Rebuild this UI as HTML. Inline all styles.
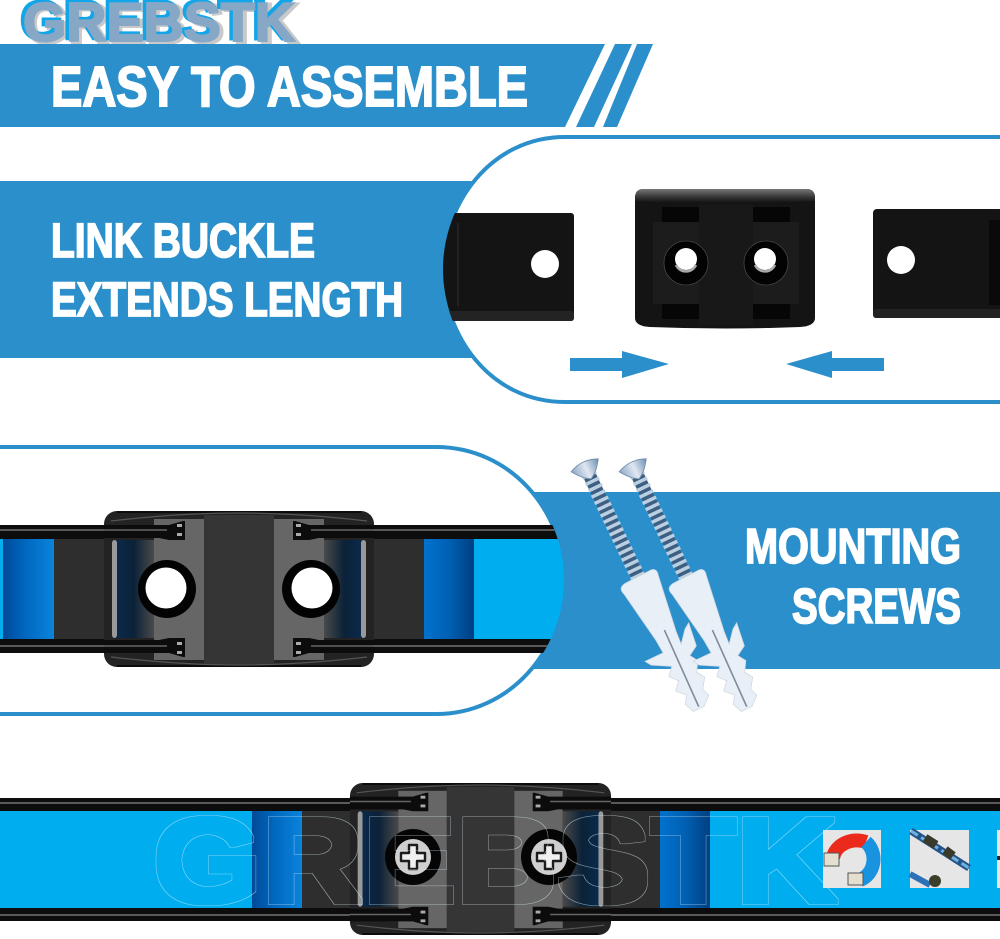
<!DOCTYPE html>
<html><head><meta charset="utf-8"><style>html,body{margin:0;padding:0;background:#fff}svg{display:block}text{font-family:"Liberation Sans",sans-serif;font-weight:bold}</style></head>
<body>
<svg width="1000" height="939" viewBox="0 0 1000 939" xmlns="http://www.w3.org/2000/svg">
<defs>
<linearGradient id="dk" x1="0" x2="1" y1="0" y2="0"><stop offset="0" stop-color="#0072cc"/><stop offset=".5" stop-color="#0060b4"/><stop offset="1" stop-color="#003f80"/></linearGradient>
<linearGradient id="dk2" x1="0" x2="1" y1="0" y2="0"><stop offset="0" stop-color="#004a98"/><stop offset=".45" stop-color="#0068c0"/><stop offset="1" stop-color="#0a84dc"/></linearGradient>
<linearGradient id="win" x1="0" x2="1" y1="0" y2="0"><stop offset="0" stop-color="#0a2a4e"/><stop offset=".5" stop-color="#0b2238"/><stop offset="1" stop-color="#4a4a4a"/></linearGradient>
<linearGradient id="win2" x1="1" x2="0" y1="0" y2="0"><stop offset="0" stop-color="#0a2a4e"/><stop offset=".5" stop-color="#0b2238"/><stop offset="1" stop-color="#4a4a4a"/></linearGradient>
<linearGradient id="top" x1="0" x2="0" y1="0" y2="1"><stop offset="0" stop-color="#777"/><stop offset=".6" stop-color="#333"/><stop offset="1" stop-color="#111"/></linearGradient>
<linearGradient id="sh" x1="0" x2="1" y1="0" y2="0"><stop offset="0" stop-color="#8fa6c4"/><stop offset=".5" stop-color="#dfe8f2"/><stop offset="1" stop-color="#6f8db0"/></linearGradient>
<clipPath id="c2"><path d="M1000 137H565C490 137 443 205 443 269C443 335 490 402 565 402H1000Z"/></clipPath>
<clipPath id="c3"><path d="M0 447H436C510 447 564 510 564 580C564 650 510 714 436 714H0Z"/></clipPath>
<filter id="ol" x="-5%" y="-10%" width="110%" height="120%">
<feMorphology in="SourceAlpha" operator="dilate" radius="3.2" result="a"/>
<feMorphology in="SourceAlpha" operator="dilate" radius="2.4" result="b"/>
<feComposite in="a" in2="b" operator="out" result="c"/>
<feFlood flood-color="#d8eefa" flood-opacity=".6"/>
<feComposite in2="c" operator="in"/>
</filter>
<g id="buckle">
<rect x="-135" y="-78" width="270" height="156" rx="13" fill="#232323"/>
<path d="M-122 -77H122" stroke="#0c0c0c" stroke-width="2"/>
<path d="M-122 77H122" stroke="#0c0c0c" stroke-width="2"/>
<path d="M-128 -68Q-60 -76 0 -76Q60 -76 128 -68" fill="none" stroke="#555" stroke-width="1.2"/>
<path d="M-128 68Q-60 76 0 76Q60 76 128 68" fill="none" stroke="#555" stroke-width="1.2"/>
<rect x="-85" y="-70" width="170" height="141" fill="#666"/>
<rect x="-35" y="-74" width="70" height="149" fill="#353535"/>
<rect x="-125" y="-49" width="40" height="98" fill="url(#win)"/>
<rect x="85" y="-49" width="40" height="98" fill="url(#win2)"/>
<rect x="-127" y="-49" width="5" height="98" rx="3" fill="#999"/>
<rect x="122" y="-49" width="5" height="98" rx="3" fill="#999"/>
<path d="M-135 -64H-70L-56 -68H-54V-49H-70L-80 -51H-135ZM135 -64H70L56 -68H54V-49H70L80 -51H135ZM-135 64H-70L-56 68H-54V49H-70L-80 51H-135ZM135 64H70L56 68H54V49H70L80 51H135Z" fill="#0c0c0c"/>
<path d="M-135 -59H-72M135 -59H72M-135 57H-72M135 57H72" stroke="#666" stroke-width="1.5"/>
<path d="M-62 -65h5v3h-5zM-62 -56h5v3h-5zM57 -65h5v3h-5zM57 -56h5v3h-5zM-62 53h5v3h-5zM-62 62h5v3h-5zM57 53h5v3h-5zM57 62h5v3h-5z" fill="#aaa"/>
</g>
<g id="screw">
<line x1="0" y1="6" x2="0" y2="122" stroke="#3f5f80" stroke-width="13"/>
<line x1="0" y1="6" x2="0" y2="122" stroke="#b9cfe4" stroke-width="15" stroke-dasharray="3.5 3.5"/>
<path d="M-15 -3Q0 -10 15 -3Q8 8 0 12Q-8 8 -15 -3Z" fill="url(#sh)" stroke="#708aa8" stroke-width=".8"/>
<path d="M-20 130Q-23 122 -14 121L15 120Q21 121 19 128L11 186L10 200L20 188L26 184L23 208L13 214L18 222L12 232L17 240L10 250L13 258L4 266L-8 266L-12 256L-7 248L-15 240L-8 232L-15 224L-8 216L-26 206L-30 200L-10 200L-11 186Z" fill="#e9eff6" stroke="#cfd8e2" stroke-width=".8"/>
<line x1="1" y1="180" x2="-1" y2="264" stroke="#7d8b9a" stroke-width="1.6"/>
</g>
<g id="phil">
<circle r="28" fill="#050505"/>
<circle r="18" fill="#cfcfcf"/>
<path d="M-4 -12H4V-4H12V4H4V12H-4V4H-12V-4H-4Z" fill="#f0f0f0" stroke="#1c1c1c" stroke-width="2.4" stroke-linejoin="round"/>
</g>
</defs>

<!-- logo -->
<text x="25" y="43" font-size="57" fill="#c9c9c9" textLength="274" lengthAdjust="spacingAndGlyphs" stroke="#c9c9c9" stroke-width="3">GREBSTK</text>
<text x="20" y="39" font-size="55" fill="#12a5e8" textLength="272" lengthAdjust="spacingAndGlyphs" stroke="#12a5e8" stroke-width="3">GREBSTK</text>
<text x="23" y="41" font-size="55" fill="#86a8c6" textLength="272" lengthAdjust="spacingAndGlyphs" stroke="#86a8c6" stroke-width="2">GREBSTK</text>

<!-- top banner -->
<path d="M0 44H605L565 127H0Z" fill="#2a8fca"/>
<path d="M615 44H632L594 127H576Z" fill="#2a8fca"/>
<path d="M637 44H653L617 127H603Z" fill="#2a8fca"/>
<text x="51" y="106" font-size="57" fill="#fff" stroke="#fff" stroke-width="2" textLength="477" lengthAdjust="spacingAndGlyphs">EASY TO ASSEMBLE</text>

<!-- panel 2 -->
<rect x="0" y="181" width="520" height="177" fill="#2a8fca"/>
<path d="M1000 137H565C490 137 443 205 443 269C443 335 490 402 565 402H1000" fill="#fff" stroke="#2a8fca" stroke-width="4"/>
<text x="51" y="257" font-size="48" fill="#fff" stroke="#fff" stroke-width="1.8" textLength="264" lengthAdjust="spacingAndGlyphs">LINK BUCKLE</text>
<text x="51" y="316" font-size="48" fill="#fff" stroke="#fff" stroke-width="1.8" textLength="352" lengthAdjust="spacingAndGlyphs">EXTENDS LENGTH</text>
<g clip-path="url(#c2)">
<rect x="440" y="213" width="134" height="108" rx="3" fill="#141414"/>
<rect x="440" y="311" width="134" height="10" rx="3" fill="#232323"/>
<path d="M458 223V306" stroke="#303030" stroke-width="1"/>
<circle cx="545" cy="264" r="14" fill="#fff"/>
<rect x="873" y="209" width="130" height="109" rx="4" fill="#141414"/>
<rect x="873" y="309" width="130" height="9" rx="3" fill="#232323"/>
<rect x="989" y="220" width="14" height="85" fill="#0a0a0a"/>
<circle cx="901" cy="260" r="14" fill="#fff"/>
</g>
<path d="M642 189H808Q815 190 815 198V318Q815 326 800 327Q725 330 650 327Q635 326 635 318V198Q635 190 642 189Z" fill="#141414"/>
<path d="M642 189H808Q815 190 815 198V201Q725 205 635 201V198Q635 190 642 189Z" fill="url(#top)"/>
<rect x="653" y="222" width="146" height="82" fill="#1c1c1c"/>
<rect x="699" y="205" width="54" height="120" fill="#181818"/>
<path d="M662 207H699V222H662ZM753 207H790V222H753ZM662 304H699V319H662ZM753 304H790V319H753Z" fill="#060606"/>
<circle cx="686" cy="263" r="22" fill="#030303" stroke="#555" stroke-width=".6"/>
<circle cx="766" cy="263" r="22" fill="#030303" stroke="#555" stroke-width=".6"/>
<circle cx="686" cy="259" r="11" fill="#fff"/>
<circle cx="765" cy="259" r="11" fill="#fff"/>
<path d="M676 265A11 11 0 0 0 696 265" fill="none" stroke="#aaa" stroke-width="2.5"/>
<path d="M755 265A11 11 0 0 0 775 265" fill="none" stroke="#aaa" stroke-width="2.5"/>
<path d="M570 358H622V351L669 364L622 378V371H570Z" fill="#2a8fca"/>
<path d="M884 358H832V351L786 364L832 378V371H884Z" fill="#2a8fca"/>

<!-- panel 3 -->
<rect x="500" y="492" width="500" height="177" fill="#2a8fca"/>
<path d="M0 447H436C510 447 564 510 564 580C564 650 510 714 436 714H0" fill="#fff" stroke="#2a8fca" stroke-width="4"/>
<g clip-path="url(#c3)">
<rect x="0" y="538" width="3" height="102" fill="#00aeef"/>
<rect x="3" y="538" width="51" height="102" fill="url(#dk2)"/>
<rect x="54" y="538" width="370" height="102" fill="#2e2e2e"/>
<rect x="424" y="538" width="50" height="102" fill="url(#dk)"/>
<rect x="474" y="538" width="100" height="102" fill="#00aeef"/>
<rect x="0" y="525" width="570" height="14" fill="#0d0d0d"/><rect x="0" y="529" width="570" height="2" fill="#5a5a5a"/>
<rect x="0" y="639" width="570" height="14" fill="#0d0d0d"/><rect x="0" y="645" width="570" height="2" fill="#5a5a5a"/>
</g>
<use href="#buckle" x="239" y="589"/>
<circle cx="167" cy="589" r="29" fill="#030303"/><circle cx="311" cy="589" r="29" fill="#030303"/>
<circle cx="166" cy="588" r="20.5" fill="#fff"/><circle cx="312" cy="588" r="20.5" fill="#fff"/>

<!-- screws -->
<g transform="translate(586 468) rotate(-25.5)"><use href="#screw"/></g>
<g transform="translate(634 468) rotate(-25.5)"><use href="#screw"/></g>
<text x="745" y="563" font-size="49" fill="#fff" stroke="#fff" stroke-width="1.8" textLength="216" lengthAdjust="spacingAndGlyphs">MOUNTING</text>
<text x="792" y="623" font-size="49" fill="#fff" stroke="#fff" stroke-width="1.8" textLength="169" lengthAdjust="spacingAndGlyphs">SCREWS</text>

<!-- bottom strip -->
<rect x="0" y="810" width="252" height="99" fill="#00aeef"/>
<rect x="252" y="810" width="50" height="99" fill="url(#dk2)"/>
<rect x="302" y="810" width="358" height="99" fill="#2e2e2e"/>
<rect x="660" y="810" width="50" height="99" fill="url(#dk)"/>
<rect x="710" y="810" width="290" height="99" fill="#00aeef"/>
<rect x="0" y="798" width="1000" height="13" fill="#0d0d0d"/><rect x="0" y="802" width="1000" height="2" fill="#5a5a5a"/>
<rect x="0" y="908" width="1000" height="13" fill="#0d0d0d"/><rect x="0" y="914" width="1000" height="2" fill="#5a5a5a"/>
<g transform="translate(480.5 859) scale(.967 .974)"><use href="#buckle"/></g>
<use href="#phil" x="413" y="857"/><use href="#phil" x="549" y="857"/>

<!-- tiles -->
<rect x="823" y="830" width="58" height="58" fill="#e6e6e6"/>
<path d="M833 858A24 20 0 0 1 866 842" fill="none" stroke="#ec2a1c" stroke-width="14"/>
<path d="M866 842A20 22 0 0 1 860 880" fill="none" stroke="#1992e0" stroke-width="14"/>
<rect x="824" y="853" width="15" height="13" fill="#e4dfcf" stroke="#555" stroke-width="1"/>
<rect x="848" y="873" width="15" height="12" fill="#e4dfcf" stroke="#555" stroke-width="1"/>
<rect x="910" y="830" width="59" height="58" fill="#e6e6e6"/>
<path d="M911 831L969 868" stroke="#23558a" stroke-width="7"/>
<path d="M911 831L969 868" stroke="#6fb1e0" stroke-width="3" stroke-dasharray="8 4"/>
<path d="M925 838L936 845M945 850L953 856" stroke="#3a3a2a" stroke-width="9"/>
<path d="M910 874L930 885" stroke="#2a71b8" stroke-width="6"/>
<circle cx="935" cy="881" r="6" fill="#3a3f2a"/>
<rect x="997" y="830" width="3" height="58" fill="#e6e6e6"/><rect x="997" y="856" width="3" height="4" fill="#222"/>

<!-- watermark -->
<text x="153" y="902" font-size="120" fill="#fff" filter="url(#ol)" textLength="684" lengthAdjust="spacingAndGlyphs">GREBSTK</text>
</svg>
</body></html>
